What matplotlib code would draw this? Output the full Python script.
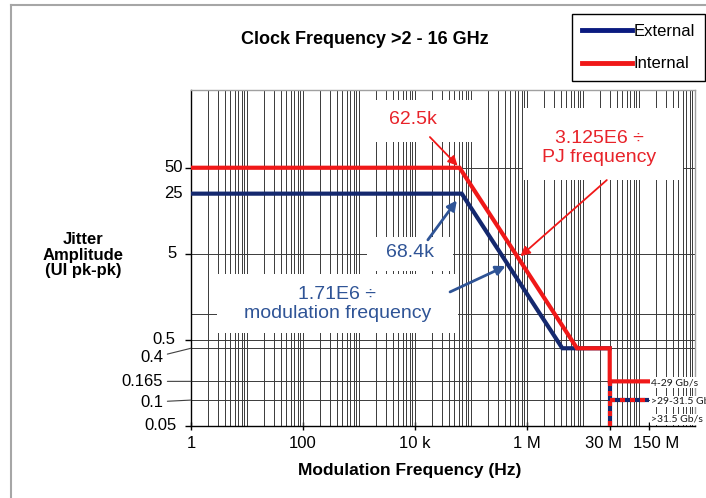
import numpy as np
import matplotlib
matplotlib.use("Agg")
import matplotlib.pyplot as plt
import matplotlib.transforms as mtransforms
from matplotlib.patches import Rectangle
from matplotlib.lines import Line2D
from matplotlib.ticker import FixedLocator, LogLocator, NullFormatter

plt.rcParams['font.family'] = ['Liberation Sans', 'DejaVu Sans']

# Jitter tolerance mask parameters
ext_flat_ui = 25.0
ext_corner_hz = 68.4e3
ext_slope_const = 1.71e6
int_flat_ui = 50.0
int_corner_hz = 62.5e3
int_slope_const = 3.125e6
floor_ui = 0.4
step_hz = 30e6
stop_hz = 150e6
rate_levels_ui = [0.165, 0.1]
rate_labels = ['4-29 Gb/s', '>29-31.5 Gb/s', '>31.5 Gb/s']

x_ticks = [1, 100, 1e4, 1e6, 30e6, 150e6]
x_tick_labels = ['1', '100', '10 k', '1 M', '30 M', '150 M']
y_tick_vals = [50, 25, 5, 0.5, 0.05]
y_tick_labels = ['50', '25', '5', '0.5', '0.05']
y_leader_vals = [0.4, 0.165, 0.1]
y_leader_labels = ['0.4', '0.165', '0.1']
h_grid = [50, 5, 1, 0.5, 0.4, 0.165, 0.1]

RED = '#F01818'
NAVY = '#14286E'
RED_TXT = '#E8232A'
BLUE_TXT = '#2F5496'
GRID = '#3A3A3A'

fig = plt.figure(figsize=(7.06, 4.98), dpi=100)
ax = fig.add_axes([191 / 706, 1 - 426 / 498, 504 / 706, 336 / 498])
ax.set_xscale('log')
ax.set_yscale('log')
ax.set_xlim(1, 1e9)
ax.set_ylim(0.05, 400)

# ticks and gridlines
ax.xaxis.set_major_locator(FixedLocator(x_ticks))
ax.set_xticklabels(x_tick_labels, fontsize=12)
ax.xaxis.set_minor_locator(LogLocator(base=10, subs=np.arange(1, 10), numticks=200))
ax.xaxis.set_minor_formatter(NullFormatter())
ax.xaxis.remove_overlapping_locs = False
ax.tick_params(axis='x', which='major', direction='inout', length=6, width=1, pad=4)
ax.tick_params(axis='x', which='minor', length=0)
ax.grid(True, axis='x', which='minor', color=GRID, lw=0.7)

# nudge the two crowded labels apart
label_shift_px = {'30 M': -6, '150 M': 7}
for lab in ax.get_xticklabels():
    dx = label_shift_px.get(lab.get_text(), 0)
    if dx:
        lab.set_transform(lab.get_transform() +
                          mtransforms.ScaledTranslation(dx / 100, 0, fig.dpi_scale_trans))

ax.yaxis.set_major_locator(FixedLocator([50, 5, 0.5, 0.05]))
ax.yaxis.set_major_formatter(NullFormatter())
ax.yaxis.set_minor_locator(FixedLocator(h_grid))
ax.yaxis.set_minor_formatter(NullFormatter())
ax.yaxis.remove_overlapping_locs = False
ax.tick_params(axis='y', which='major', direction='out', length=4, width=1)
ax.tick_params(axis='y', which='minor', length=0)
ax.grid(True, axis='y', which='minor', color=GRID, lw=0.7)
ax.set_axisbelow(True)

for side in ('left', 'bottom'):
    ax.spines[side].set_color('black')
    ax.spines[side].set_linewidth(1.0)
for side in ('top', 'right'):
    ax.spines[side].set_color('#A0A0A0')
    ax.spines[side].set_linewidth(1.0)

# y tick labels, some with leader lines
y_offsets = {'50': (-6, 0), '25': (-6, 0), '5': (-10, 0), '0.5': (-11.5, 0), '0.05': (-10, 0)}
for v, lab in zip(y_tick_vals, y_tick_labels):
    ax.annotate(lab, xy=(0, v), xycoords=('axes fraction', 'data'),
                xytext=y_offsets[lab], textcoords='offset points',
                ha='right', va='center', fontsize=12, annotation_clip=False)
leader_offsets = [(-20, -7), (-20, 0), (-20, -1.4)]
for v, lab, off in zip(y_leader_vals, y_leader_labels, leader_offsets):
    ax.annotate(lab, xy=(0, v), xycoords=('axes fraction', 'data'),
                xytext=off, textcoords='offset points',
                ha='right', va='center', fontsize=12, annotation_clip=False,
                arrowprops=dict(arrowstyle='-', color='#404040', lw=0.8,
                                shrinkA=1, shrinkB=0))

# white backgrounds for the annotation text
for (x0, y0, w, h) in [(0.359, 0.845, 0.200, 0.125),
                       (0.659, 0.732, 0.317, 0.214),
                       (0.349, 0.461, 0.171, 0.101),
                       (0.052, 0.277, 0.478, 0.176)]:
    ax.add_patch(Rectangle((x0, y0), w, h, transform=ax.transAxes,
                           facecolor='white', edgecolor='none', zorder=2))

# mask lines
ext_f = [1, ext_corner_hz, ext_slope_const / floor_ui, step_hz]
ext_a = [ext_flat_ui, ext_flat_ui, floor_ui, floor_ui]
int_f = [1, int_corner_hz, int_slope_const / floor_ui, step_hz, step_hz, stop_hz]
int_a = [int_flat_ui, int_flat_ui, floor_ui, floor_ui, rate_levels_ui[0], rate_levels_ui[0]]

ax.plot(ext_f, ext_a, color=NAVY, lw=3, zorder=3, solid_joinstyle='miter')
ax.plot(int_f, int_a, color=RED, lw=3, zorder=4, solid_joinstyle='miter')

# shared segments for the higher data rates (both colours)
ymin = ax.get_ylim()[0]
for xs, ys in [([step_hz, step_hz], [rate_levels_ui[0], ymin]),
               ([step_hz, stop_hz], [rate_levels_ui[1], rate_levels_ui[1]])]:
    ax.plot(xs, ys, color=NAVY, lw=3, zorder=4, solid_capstyle='butt')
    ax.plot(xs, ys, color=RED, lw=3, zorder=4, linestyle=(0, (1.2, 1.2)),
            dash_capstyle='butt')

# rate labels at the right end
for lvl, lab, dy in [(rate_levels_ui[0], rate_labels[0], -1),
                     (rate_levels_ui[1], rate_labels[1], -1),
                     (ymin, rate_labels[2], 5)]:
    ax.annotate(lab, xy=(stop_hz, lvl), xytext=(1.5, dy), textcoords='offset points',
                ha='left', va='center', fontsize=7.5, family=['Lato', 'DejaVu Sans'],
                color='#1A1A1A', annotation_clip=False, zorder=6,
                bbox=dict(boxstyle='square,pad=0.1', facecolor='white', edgecolor='none'))

# annotation texts
ax.text(0.440, 0.911, '62.5k', transform=ax.transAxes, ha='center', va='center',
        fontsize=14, color=RED_TXT, zorder=5)
ax.text(0.810, 0.827, '3.125E6 \u00f7\nPJ frequency', transform=ax.transAxes,
        ha='center', va='center', fontsize=14, color=RED_TXT, zorder=5,
        linespacing=1.15)
ax.text(0.435, 0.515, '68.4k', transform=ax.transAxes, ha='center', va='center',
        fontsize=14, color=BLUE_TXT, zorder=5)
ax.text(0.290, 0.363, '1.71E6 \u00f7\nmodulation frequency', transform=ax.transAxes,
        ha='center', va='center', fontsize=14, color=BLUE_TXT, zorder=5,
        linespacing=1.15)

# arrows
red_arrow = dict(arrowstyle='-|>', color=RED, lw=1.3, mutation_scale=14, shrinkA=0)
blue_arrow = dict(arrowstyle='-|>', color=BLUE_TXT, lw=2.0, mutation_scale=14, shrinkA=0)
ax.annotate('', xy=(int_corner_hz, int_flat_ui), xytext=(0.474, 0.860),
            textcoords='axes fraction', arrowprops=dict(red_arrow, shrinkB=2), zorder=5)
ax.annotate('', xy=(700e3, int_slope_const / 700e3), xytext=(0.825, 0.732),
            textcoords='axes fraction', arrowprops=dict(red_arrow, shrinkB=2), zorder=5)
ax.annotate('', xy=(ext_corner_hz, ext_flat_ui), xytext=(0.470, 0.554),
            textcoords='axes fraction', arrowprops=dict(blue_arrow, shrinkB=6), zorder=5)
ax.annotate('', xy=(460e3, ext_slope_const / 460e3), xytext=(0.514, 0.399),
            textcoords='axes fraction', arrowprops=dict(blue_arrow, shrinkB=2), zorder=5)

# titles
fig.text(365 / 706, 1 - 40 / 498, 'Clock Frequency >2 - 16 GHz', ha='center',
         va='center', fontsize=13, fontweight='bold')
fig.text(410 / 706, 1 - 470 / 498, 'Modulation Frequency (Hz)', ha='center',
         va='center', fontsize=12.5, fontweight='bold')
fig.text(83 / 706, 1 - 255 / 498, 'Jitter\nAmplitude\n(UI pk-pk)', ha='center',
         va='center', fontsize=12, fontweight='bold', linespacing=1.05)

# legend
handles = [Line2D([], [], color='#0A1A80', lw=3.5), Line2D([], [], color=RED, lw=3.5)]
leg = fig.legend(handles, ['External', 'Internal'], loc='upper right',
                 bbox_to_anchor=(705 / 706, 1 - 14 / 498), fontsize=12,
                 frameon=True, fancybox=False, framealpha=1, edgecolor='black',
                 handlelength=3.0, handletextpad=0.1, labelspacing=1.05,
                 borderpad=0.6, borderaxespad=0)
leg.get_frame().set_linewidth(1.0)

# outer border of the chart area
fig.add_artist(Line2D([11 / 706, 1], [1 - 5 / 498, 1 - 5 / 498], transform=fig.transFigure,
                      color='#A6A6A6', lw=1.5))
fig.add_artist(Line2D([11 / 706, 11 / 706], [0, 1 - 5 / 498], transform=fig.transFigure,
                      color='#A6A6A6', lw=1.5))

fig.savefig('out.png', dpi=100)
